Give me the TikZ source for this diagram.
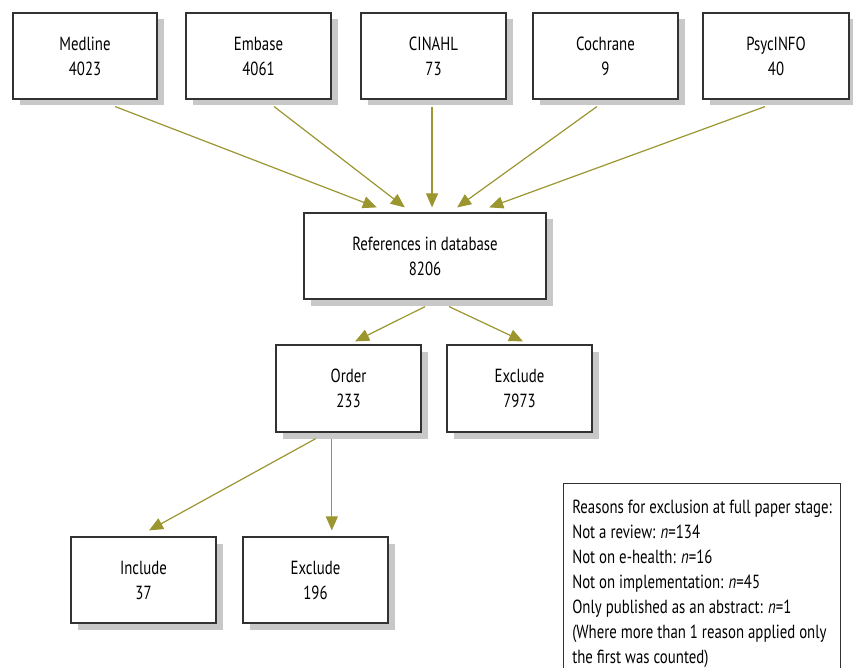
\documentclass[tikz,border=0pt]{standalone}
\usepackage{fontspec}
\setmainfont{PT Sans}[FakeStretch=0.78]
\usetikzlibrary{arrows.meta,calc,shadows}
\definecolor{arrowol}{RGB}{155,150,48}
\definecolor{boxline}{RGB}{50,50,50}
\definecolor{shadowgray}{RGB}{200,200,200}
\begin{document}
\begin{tikzpicture}[x=1pt,y=-1pt,
  font=\fontsize{19}{25}\selectfont,
  flowbox/.style={draw=boxline, line width=1.2pt, fill=white, rectangle,
    minimum width=145pt, minimum height=86pt, inner sep=0pt, align=center,
    drop shadow={shadow xshift=6.5pt, shadow yshift=-6.5pt, fill=shadowgray, opacity=1}},
  flowarrow/.style={draw=arrowol, line width=1.2pt,
    -{Triangle[length=14pt,width=12pt]}},
  notebox/.style={draw=boxline, line width=1.2pt, fill=white, rectangle,
    anchor=north west, align=left, minimum width=277pt, inner xsep=8pt, inner ysep=11pt}]
\useasboundingbox (0,0) rectangle (853,668);
\fill[white] (0,0) rectangle (853,668);

\node[flowbox, minimum width=144pt] (medline) at (85,56) {Medline\\4023};
\node[flowbox] (embase) at (258.5,56) {Embase\\4061};
\node[flowbox] (cinahl) at (433.5,56) {CINAHL\\73};
\node[flowbox] (cochrane) at (605.5,56) {Cochrane\\9};
\node[flowbox, minimum width=146pt] (psyc) at (776,56) {PsycINFO\\40};

\node[flowbox, minimum width=242pt] (refs) at (425,256) {References in database\\8206};

\node[flowbox, minimum height=87pt] (order) at (348.5,388.5) {Order\\233};
\node[flowbox, minimum height=87pt] (excla) at (519.5,388.5) {Exclude\\7973};

\node[flowbox] (incl) at (143.5,580) {Include\\37};
\node[flowbox] (exclb) at (315.5,580) {Exclude\\196};

\node[notebox, minimum height=200pt] (reasons) at (563,483) {Reasons for exclusion at full paper stage:\\
Not a review: \textit{n}=134\\
Not on e-health: \textit{n}=16\\
Not on implementation: \textit{n}=45\\
Only published as an abstract: \textit{n}=1\\
(Where more than 1 reason applied only\\
the first was counted)};

% arrows from databases to references
\draw[flowarrow] ($(medline.south west)!0.708!(medline.south east)+(0,7)$) -- ($(refs.north west)!0.302!(refs.north east)+(0,-5)$);
\draw[flowarrow] ($(embase.south west)!0.607!(embase.south east)+(0,7)$) -- ($(refs.north west)!0.417!(refs.north east)+(0,-5)$);
\coordinate (cstart) at ($(cinahl.south west)!0.49!(cinahl.south east)+(0,7)$);
\draw[flowarrow] (cstart) -- ($(cstart |- refs.north)+(0,-5)$);
\draw[flowarrow] ($(cochrane.south west)!0.441!(cochrane.south east)+(0,7)$) -- ($(refs.north west)!0.632!(refs.north east)+(0,-5)$);
\draw[flowarrow] ($(psyc.south west)!0.425!(psyc.south east)+(0,7)$) -- ($(refs.north west)!0.764!(refs.north east)+(0,-5)$);

% references to order / exclude
\draw[flowarrow] ($(refs.south west)!0.5!(refs.south east)+(0,7)$) -- ($(order.north west)!0.545!(order.north east)+(0,-3)$);
\draw[flowarrow] ($(refs.south west)!0.599!(refs.south east)+(0,7)$) -- ($(excla.north west)!0.524!(excla.north east)+(0,-3)$);

% order to include / exclude
\draw[flowarrow] ($(order.south west)!0.276!(order.south east)+(0,6)$) -- ($(incl.north west)!0.538!(incl.north east)+(0,-6)$);
\coordinate (ostart) at ($(order.south west)!0.386!(order.south east)+(0,6)$);
\draw[flowarrow] (ostart) -- ($(ostart |- exclb.north)+(0,-6)$);
\end{tikzpicture}
\end{document}
